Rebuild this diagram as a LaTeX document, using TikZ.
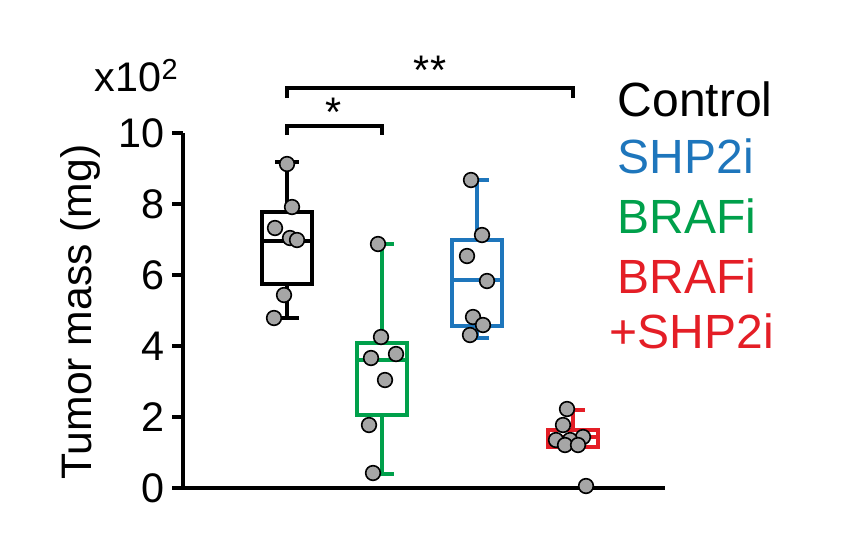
\documentclass[tikz,border=0pt]{standalone}
\usepackage{fontspec}
\setmainfont{Liberation Sans}
\definecolor{cblue}{RGB}{30,118,188}
\definecolor{cgreen}{RGB}{0,160,75}
\definecolor{cred}{RGB}{228,30,38}
\begin{document}
\begin{tikzpicture}[x=0.75pt,y=-0.75pt,line width=2.8pt,
  pt/.style={circle,draw=black,fill=black!35,line width=1.2pt,inner sep=0pt,minimum size=11pt},
  lab/.style={font=\fontsize{31}{33}\selectfont,inner sep=0pt},
  ylab/.style={font=\fontsize{32}{34}\selectfont,inner sep=0pt},
  leg/.style={font=\fontsize{36}{40}\selectfont,inner sep=0pt,anchor=west}]
\useasboundingbox (0,0) rectangle (859,551);
% axes
\coordinate (o) at (183,488); \coordinate (top) at (183,133); \coordinate (xe) at (665,488);
\draw (top) -- (o) -- (xe);
\foreach \v/\yy in {0/488,2/417,4/346,6/275,8/204,10/133}{
  \draw (172,\yy) -- (183,\yy);
  \node[lab,anchor=east] at (166,\yy) {\v};}
\node[ylab,rotate=90] (yl) at (80,312) {Tumor mass (mg)};
\node[lab,anchor=west] (xl) at (93,76) {x10$^{\mathrm{2}}$};
\newcommand{\bx}[8]{%
  \draw[#1] (#2-25,#3) rectangle (#2+25,#4);
  \draw[#1] (#2-25,#5) -- (#2+25,#5);
  \draw[#1] (#2,#3) -- (#2,#6); \draw[#1] (#2-12,#6) -- (#2+12,#6);
  \draw[#1] (#2,#4) -- (#2,#7); \draw[#1] (#2-12,#7) -- (#2+12,#7);}
\bx{black}{287}{284}{212}{241}{318}{162}{}
\bx{cgreen}{382}{415}{343}{360}{474}{244}{}
\bx{cblue}{477}{326}{240}{280}{338}{180}{}
\bx{cred}{573}{447}{430}{437}{447}{410}{}
\foreach \px/\py in {287/164,292/207,275/228,290/238,297/240,284/295,274/318,
 378/244,381/337,371/358,396/354,385/380,369/425,373/473,
 471/180,482/235,467/256,487/281,473/317,483/325,470/335,
 567/409,563/425,583/437,556/440,570/440,565/445,578/445,586/486}
  \node[pt] at (\px,\py) {};
\draw (287,135) -- (287,126) -- (382,126) -- (382,135);
\node[lab] (s1) at (334,112) {*};
\draw (287,98) -- (287,88) -- (573,88) -- (573,98);
\node[lab] (s2) at (430,70) {**};
\node[leg] (l1) at (616,99) {Control};
\node[leg,text=cblue] (l2) at (616,156) {SHP2i};
\node[leg,text=cgreen] (l3) at (616,216) {BRAFi};
\node[leg,text=cred] (l4) at (616,276) {BRAFi};
\node[leg,text=cred] (l5) at (608,331) {+SHP2i};
\end{tikzpicture}
\end{document}
